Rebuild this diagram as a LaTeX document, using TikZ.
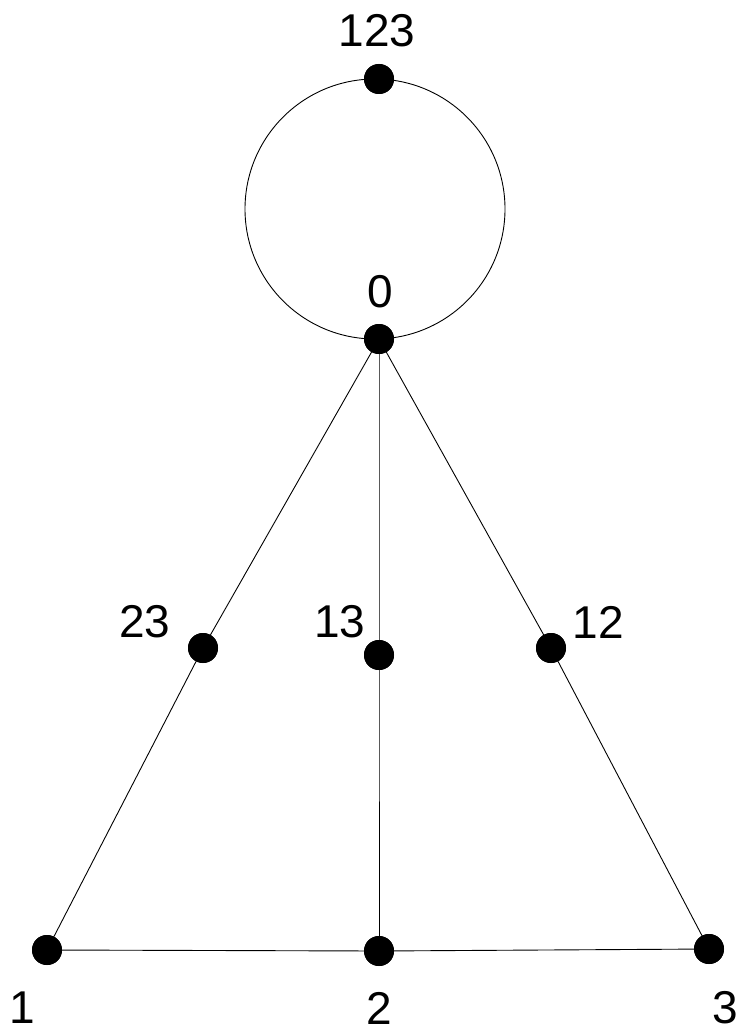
\documentclass[tikz,border=0pt]{standalone}
\usepackage{fontspec}
\setmainfont{Liberation Sans}
\begin{document}
\begin{tikzpicture}[x=1pt,y=-1pt,
  vertex/.style={circle,fill=black,inner sep=0pt,minimum size=30pt},
  lbl/.style={inner sep=0pt,font=\fontsize{46}{46}\selectfont},
  edge/.style={line width=0.9pt}]
\useasboundingbox (0,0) rectangle (742,1035);
% loop through the two top vertices
\draw[edge] (375,209) circle (130);
% vertices
\node[vertex] (v123) at (379,79) {};
\node[vertex] (v0) at (379,339) {};
\node[vertex] (v23) at (203,648) {};
\node[vertex] (v13) at (379,655) {};
\node[vertex] (v12) at (551,648) {};
\node[vertex] (v1) at (47,950) {};
\node[vertex] (v2) at (379,951) {};
\node[vertex] (v3) at (709,949) {};
% edges
\draw[edge] (v0.center) -- (v23.center) -- (v1.center);
\draw[edge] (v0.center) -- (v13.center) -- (v2.center);
\draw[edge] (v0.center) -- (v12.center) -- (v3.center);
\draw[edge] (v1.center) -- (v2.center) -- (v3.center);
% redraw vertices on top
\foreach \v in {v123,v0,v23,v13,v12,v1,v2,v3}
  \fill (\v) circle (15);
% labels
\node[lbl] (l123) at (377,31) {123};
\node[lbl] (l0) at (380,292) {0};
\node[lbl] (l23) at (145,622) {23};
\node[lbl] (l13) at (340,622) {13};
\node[lbl] (l12) at (598,622) {12};
\node[lbl] (l1) at (22,1008) {1};
\node[lbl] (l2) at (379,1008) {2};
\node[lbl] (l3) at (725,1008) {3};
\end{tikzpicture}
\end{document}
